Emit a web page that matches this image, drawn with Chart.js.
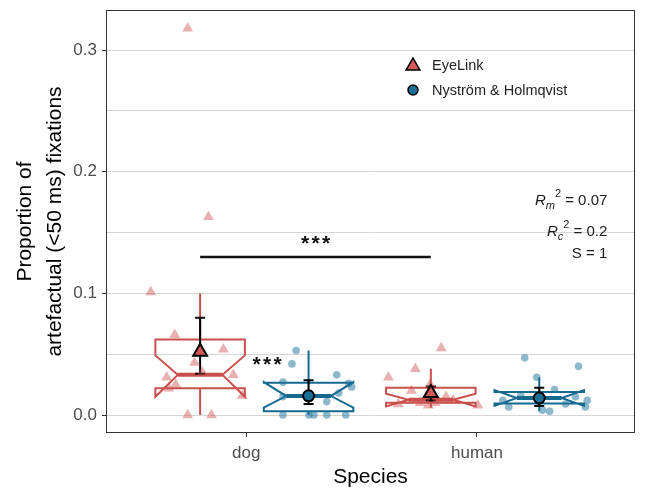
<!DOCTYPE html>
<html>
<head>
<meta charset="utf-8">
<script src="https://cdn.jsdelivr.net/npm/chart.js@4.4.1/dist/chart.umd.min.js"></script>
<style>
  body { margin: 0; background: #fff; }
  canvas { display: block; }
</style>
</head>
<body>
<canvas id="chart" width="645" height="493"></canvas>
<script>
// Data
const species = ["dog", "human"];
const devices = ["EyeLink", "Nyström & Holmqvist"];
const yTickLabels = [0, 0.1, 0.2, 0.3];
const yGridLines = [0, 0.05, 0.1, 0.15, 0.2, 0.25, 0.3];

// individual subjects (x = jittered position, y = proportion)
const eyeX = [0.746, 0.836, 0.586, 0.690, 0.901, 0.776, 0.810, 0.944, 0.655, 0.694, 0.664, 0.983, 0.746, 0.849,
              1.845, 1.616, 1.733, 1.716, 1.797, 1.866, 1.754, 1.819, 1.789, 2.004, 1.659, 1.897];
const eyeY = [0.318, 0.163, 0.101, 0.066, 0.054, 0.043, 0.035, 0.033, 0.031, 0.025, 0.022, 0.016, 0.0, 0.0,
              0.055, 0.031, 0.038, 0.020, 0.025, 0.015, 0.010, 0.010, 0.008, 0.008, 0.009, 0.012];
const nhX = [1.216, 1.198, 1.159, 1.392, 1.444, 1.457, 1.401, 1.349, 1.159, 1.159, 1.272, 1.293, 1.349, 1.431,
             2.207, 2.440, 2.259, 2.336, 2.190, 2.478, 2.470, 2.138, 2.284, 2.315, 2.384, 2.427, 2.112];
const nhY = [0.053, 0.042, 0.027, 0.033, 0.026, 0.023, 0.018, 0.011, 0.015, 0.0, 0.0, 0.0, 0.0, 0.0,
             0.047, 0.040, 0.031, 0.021, 0.016, 0.012, 0.0066, 0.0066, 0.004, 0.003, 0.009, 0.015, 0.012];

// boxplot stats [dog, human]
const eyeLow = [0.0, 0.006];
const eyeQ1 = [0.022, 0.010];
const eyeMed = [0.033, 0.0125];
const eyeQ3 = [0.062, 0.0224];
const eyeHigh = [0.100, 0.038];
const eyeNotchLo = [0.015, 0.007];
const eyeNotchHi = [0.049, 0.0175];

const nhLow = [0.0, 0.003];
const nhQ1 = [0.003, 0.0095];
const nhMed = [0.0156, 0.014];
const nhQ3 = [0.0265, 0.019];
const nhHigh = [0.053, 0.031];
const nhNotchLo = [0.006, 0.0075];
const nhNotchHi = [0.027, 0.0205];

// model means with CI [dog, human]
const eyeMean = [0.052, 0.018];
const eyeCiLo = [0.034, 0.012];
const eyeCiHi = [0.080, 0.0235];
const nhMean = [0.0158, 0.014];
const nhCiLo = [0.009, 0.0075];
const nhCiHi = [0.0285, 0.0224];

const sigBarY = 0.13;
const r2m = "0.07";
const r2c = "0.2";
const sValue = "1";

// Layout / style
const FONT = "'Liberation Sans', Arial, sans-serif";
const dodge = [-0.2, 0.27];
const boxWidth = 0.388;
const RED = "#c94f4d";
const RED_FILL = "#d35a57";
const RED_PT = "rgba(204, 82, 80, 0.45)";
const BLUE = "#15698e";
const BLUE_FILL = "#1a6f96";
const BLUE_PT = "rgba(30, 115, 155, 0.5)";

Chart.defaults.font.family = FONT;

function statsAt(arrs, i) {
  return { lo: arrs[0][i], q1: arrs[1][i], med: arrs[2][i], q3: arrs[3][i], hi: arrs[4][i], nlo: arrs[5][i], nhi: arrs[6][i] };
}
const eyeBoxes = [eyeLow, eyeQ1, eyeMed, eyeQ3, eyeHigh, eyeNotchLo, eyeNotchHi];
const nhBoxes = [nhLow, nhQ1, nhMed, nhQ3, nhHigh, nhNotchLo, nhNotchHi];

function drawBox(ctx, x, y, cx, s, color) {
  const xl = x.getPixelForValue(cx - boxWidth / 2);
  const xr = x.getPixelForValue(cx + boxWidth / 2);
  const xc = x.getPixelForValue(cx);
  const inset = (xr - xl) * 0.25;
  const py = (v) => y.getPixelForValue(v);

  ctx.strokeStyle = color;
  ctx.lineWidth = 2;
  ctx.beginPath();
  ctx.moveTo(xc, py(s.q3));
  ctx.lineTo(xc, py(s.hi));
  ctx.moveTo(xc, py(s.q1));
  ctx.lineTo(xc, py(s.lo));
  ctx.stroke();

  ctx.beginPath();
  ctx.moveTo(xl, py(s.q3));
  ctx.lineTo(xl, py(s.nhi));
  ctx.lineTo(xl + inset, py(s.med));
  ctx.lineTo(xl, py(s.nlo));
  ctx.lineTo(xl, py(s.q1));
  ctx.lineTo(xr, py(s.q1));
  ctx.lineTo(xr, py(s.nlo));
  ctx.lineTo(xr - inset, py(s.med));
  ctx.lineTo(xr, py(s.nhi));
  ctx.lineTo(xr, py(s.q3));
  ctx.closePath();
  ctx.stroke();

  ctx.lineWidth = 4;
  ctx.beginPath();
  ctx.moveTo(xl + inset, py(s.med));
  ctx.lineTo(xr - inset, py(s.med));
  ctx.stroke();
}

function drawErrorBar(ctx, x, y, cx, lo, hi) {
  const xc = x.getPixelForValue(cx);
  const yl = y.getPixelForValue(lo);
  const yh = y.getPixelForValue(hi);
  ctx.strokeStyle = "#000";
  ctx.lineWidth = 2;
  ctx.beginPath();
  ctx.moveTo(xc, yl);
  ctx.lineTo(xc, yh);
  ctx.moveTo(xc - 5, yl);
  ctx.lineTo(xc + 5, yl);
  ctx.moveTo(xc - 5, yh);
  ctx.lineTo(xc + 5, yh);
  ctx.stroke();
}

function drawStars(ctx, cx, cy) {
  ctx.font = "bold 21px " + FONT;
  ctx.fillStyle = "#111";
  ctx.textAlign = "center";
  ctx.textBaseline = "middle";
  for (let k = -1; k <= 1; k++) ctx.fillText("*", cx + k * 10.5, cy + 3);
}

function drawRLabel(ctx, xr, yb, sub, val) {
  const parts = [
    { t: "R", f: "italic 15px " + FONT, dy: 0 },
    { t: sub, f: "italic 11px " + FONT, dy: 4 },
    { t: "2", f: "11px " + FONT, dy: -8 },
    { t: " = " + val, f: "15px " + FONT, dy: 0 },
  ];
  let total = 0;
  parts.forEach((p) => { ctx.font = p.f; p.w = ctx.measureText(p.t).width; total += p.w; });
  let cx = xr - total;
  ctx.textAlign = "left";
  ctx.textBaseline = "alphabetic";
  parts.forEach((p) => { ctx.font = p.f; ctx.fillText(p.t, cx, yb + p.dy); cx += p.w; });
}

const boxPlugin = {
  id: "boxes",
  beforeDatasetsDraw(chart) {
    const { ctx, chartArea, scales: { x, y } } = chart;
    ctx.save();
    ctx.beginPath();
    ctx.rect(chartArea.left, chartArea.top, chartArea.width, chartArea.height);
    ctx.clip();
    species.forEach((sp, i) => {
      drawBox(ctx, x, y, i + 1 + dodge[0], statsAt(eyeBoxes, i), RED);
      drawBox(ctx, x, y, i + 1 + dodge[1], statsAt(nhBoxes, i), BLUE);
    });
    species.forEach((sp, i) => {
      drawErrorBar(ctx, x, y, i + 1 + dodge[0], eyeCiLo[i], eyeCiHi[i]);
      drawErrorBar(ctx, x, y, i + 1 + dodge[1], nhCiLo[i], nhCiHi[i]);
    });
    ctx.restore();
  },
  afterDatasetsDraw(chart) {
    const { ctx, chartArea, scales: { x, y } } = chart;
    ctx.save();
    // significance: EyeLink dog vs human
    const yb = y.getPixelForValue(sigBarY);
    ctx.strokeStyle = "#111";
    ctx.lineWidth = 2.5;
    ctx.beginPath();
    ctx.moveTo(x.getPixelForValue(1 + dodge[0]), yb);
    ctx.lineTo(x.getPixelForValue(2 + dodge[0]), yb);
    ctx.stroke();
    drawStars(ctx, x.getPixelForValue(1.5 + dodge[0]), yb - 16);
    // significance: EyeLink vs N&H in dogs
    drawStars(ctx, x.getPixelForValue(1.09), y.getPixelForValue(0.0435));

    // R squared text
    ctx.fillStyle = "#1a1a1a";
    const xr = x.getPixelForValue(2.565);
    drawRLabel(ctx, xr, y.getPixelForValue(0.173), "m", r2m);
    drawRLabel(ctx, xr, y.getPixelForValue(0.1475), "c", r2c);
    ctx.font = "15px " + FONT;
    ctx.textAlign = "right";
    ctx.fillText("S = " + sValue, xr, y.getPixelForValue(0.1295));

    // legend
    const lx = chartArea.left + 307;
    const ly = chartArea.top + 55;
    const markers = [
      { style: "triangle", r: 8, fill: RED_FILL },
      { style: "circle", r: 5, fill: BLUE_FILL },
    ];
    ctx.font = "14.5px " + FONT;
    ctx.textAlign = "left";
    ctx.textBaseline = "middle";
    devices.forEach((d, i) => {
      const my = ly + i * 25;
      ctx.fillStyle = markers[i].fill;
      ctx.strokeStyle = "#000";
      ctx.lineWidth = 1.5;
      Chart.helpers.drawPoint(ctx, { pointStyle: markers[i].style, radius: markers[i].r, borderWidth: 1.5, rotation: 0 }, lx, my + (i === 0 ? 1 : 0));
      ctx.fillStyle = "#222";
      ctx.fillText(d, lx + 19, my + 1);
    });

    // panel border
    ctx.strokeStyle = "#333";
    ctx.lineWidth = 1;
    ctx.strokeRect(chartArea.left + 0.5, chartArea.top + 0.5, chartArea.width - 1, chartArea.height - 1);
    ctx.restore();
  },
};

const isMajor = (v) => yTickLabels.some((t) => Math.abs(t - v) < 1e-9);

function noOverflow(s) {
  s.paddingTop = 0;
  s.paddingBottom = 0;
  s.paddingLeft = 0;
  s.paddingRight = 0;
}

new Chart(document.getElementById("chart"), {
  type: "scatter",
  data: {
    datasets: [
      {
        label: devices[0] + " mean",
        data: species.map((s, i) => ({ x: i + 1 + dodge[0], y: eyeMean[i] })),
        pointStyle: "triangle",
        pointRadius: 8,
        backgroundColor: RED_FILL,
        borderColor: "#000",
        borderWidth: 2,
        order: 0,
      },
      {
        label: devices[1] + " mean",
        data: species.map((s, i) => ({ x: i + 1 + dodge[1], y: nhMean[i] })),
        pointStyle: "circle",
        pointRadius: 5.5,
        backgroundColor: BLUE_FILL,
        borderColor: "#000",
        borderWidth: 2,
        order: 0,
      },
      {
        label: devices[0],
        data: eyeX.map((v, i) => ({ x: v, y: eyeY[i] })),
        pointStyle: "triangle",
        pointRadius: 6.3,
        backgroundColor: RED_PT,
        borderWidth: 0,
        order: 1,
      },
      {
        label: devices[1],
        data: nhX.map((v, i) => ({ x: v, y: nhY[i] })),
        pointStyle: "circle",
        pointRadius: 3.8,
        backgroundColor: BLUE_PT,
        borderWidth: 0,
        order: 1,
      },
    ],
  },
  options: {
    responsive: false,
    animation: false,
    layout: { padding: { top: 9, right: 7, left: 0, bottom: 0 } },
    plugins: {
      legend: { display: false },
      tooltip: { enabled: false },
    },
    scales: {
      x: {
        type: "linear",
        min: 0.392,
        max: 2.685,
        afterBuildTicks: (s) => { s.ticks = species.map((_, i) => ({ value: i + 1 })); },
        afterFit: (s) => { s.height = 60; noOverflow(s); },
        ticks: {
          callback: (v) => species[v - 1],
          color: "#4d4d4d",
          font: { size: 17 },
          padding: 6,
          autoSkip: false,
          maxRotation: 0,
        },
        grid: { drawOnChartArea: false, tickLength: 4, tickColor: "#333" },
        border: { display: false },
        title: {
          display: true,
          text: "Species",
          color: "#000",
          font: { size: 21 },
          padding: { top: 0, bottom: 3 },
        },
      },
      y: {
        min: -0.0148,
        max: 0.333,
        afterBuildTicks: (s) => { s.ticks = yGridLines.map((v) => ({ value: v })); },
        afterFit: (s) => { s.width = 106; noOverflow(s); },
        ticks: {
          callback: (v) => (isMajor(v) ? v.toFixed(1) : ""),
          color: "#4d4d4d",
          font: { size: 17 },
          padding: 5,
          autoSkip: false,
        },
        grid: {
          color: "#d6d6d6",
          lineWidth: 1,
          tickLength: 4,
          tickColor: (c) => (c.tick && isMajor(c.tick.value) ? "#333" : "rgba(0,0,0,0)"),
        },
        border: { display: false },
        title: {
          display: true,
          text: ["Proportion of", "artefactual (<50 ms) fixations"],
          color: "#000",
          font: { size: 21, lineHeight: "30px" },
          padding: { top: 10, bottom: 0 },
        },
      },
    },
  },
  plugins: [boxPlugin],
});
</script>
</body>
</html>
